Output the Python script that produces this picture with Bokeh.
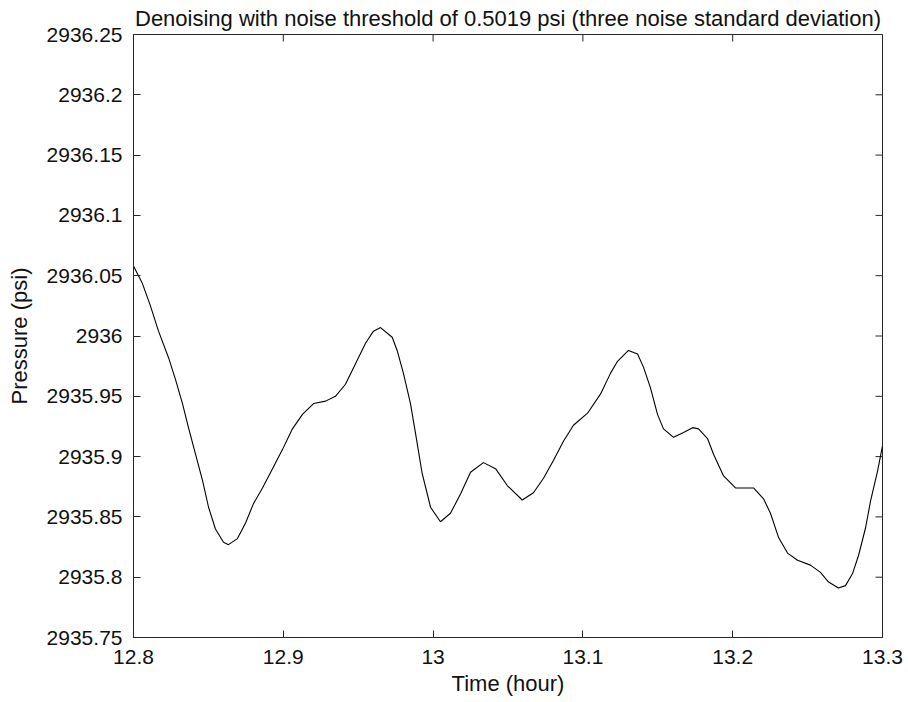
from bokeh.plotting import figure
from bokeh.models import FixedTicker, Range1d, Title
from bokeh.embed import file_html
from bokeh.resources import INLINE

time_hour = [12.8000, 12.8058, 12.8113, 12.8167, 12.8234, 12.8280, 12.8327, 12.8367, 12.8414,
             12.8461, 12.8501, 12.8547, 12.8601, 12.8634, 12.8694, 12.8748, 12.8801, 12.8861,
             12.8928, 12.8995, 12.9061, 12.9128, 12.9202, 12.9282, 12.9348, 12.9415, 12.9482,
             12.9549, 12.9602, 12.9649, 12.9727, 12.9760, 12.9802, 12.9849, 12.9883, 12.9927,
             12.9983, 13.0049, 13.0116, 13.0183, 13.0250, 13.0336, 13.0417, 13.0495, 13.0595,
             13.0670, 13.0737, 13.0804, 13.0871, 13.0937, 13.1031, 13.1118, 13.1184, 13.1231,
             13.1304, 13.1365, 13.1405, 13.1451, 13.1498, 13.1538, 13.1605, 13.1672, 13.1732,
             13.1772, 13.1832, 13.1872, 13.1939, 13.2019, 13.2139, 13.2206, 13.2252, 13.2306,
             13.2366, 13.2433, 13.2519, 13.2586, 13.2640, 13.2706, 13.2753, 13.2800, 13.2840,
             13.2887, 13.2920, 13.2967, 13.3000]
pressure_psi = [2936.058, 2936.044, 2936.025, 2936.004, 2935.982, 2935.964, 2935.944, 2935.924, 2935.902,
                2935.880, 2935.858, 2935.840, 2935.829, 2935.827, 2935.832, 2935.845, 2935.861, 2935.874,
                2935.890, 2935.906, 2935.923, 2935.935, 2935.944, 2935.946, 2935.950, 2935.960, 2935.977,
                2935.994, 2936.004, 2936.007, 2935.999, 2935.988, 2935.969, 2935.944, 2935.919, 2935.886,
                2935.858, 2935.846, 2935.853, 2935.869, 2935.887, 2935.895, 2935.890, 2935.876, 2935.864,
                2935.870, 2935.882, 2935.897, 2935.913, 2935.926, 2935.936, 2935.952, 2935.969, 2935.979,
                2935.988, 2935.985, 2935.974, 2935.957, 2935.935, 2935.923, 2935.916, 2935.920, 2935.924,
                2935.923, 2935.915, 2935.902, 2935.884, 2935.874, 2935.874, 2935.865, 2935.853, 2935.833,
                2935.820, 2935.814, 2935.810, 2935.804, 2935.796, 2935.791, 2935.793, 2935.803, 2935.818,
                2935.841, 2935.863, 2935.888, 2935.909]

x_ticks = [12.8, 12.9, 13.0, 13.1, 13.2, 13.3]
x_tick_labels = ["12.8", "12.9", "13", "13.1", "13.2", "13.3"]
y_ticks = [2935.75, 2935.8, 2935.85, 2935.9, 2935.95, 2936.0, 2936.05, 2936.1, 2936.15, 2936.2, 2936.25]
y_tick_labels = ["2935.75", "2935.8", "2935.85", "2935.9", "2935.95", "2936", "2936.05",
                 "2936.1", "2936.15", "2936.2", "2936.25"]

title_text = "Denoising with noise threshold of 0.5019 psi (three noise standard deviation)"
FONT = "Liberation Sans"

X0, X1 = 12.8, 13.3
Y0, Y1 = 2935.75, 2936.25
W, H = 908, 702
BL, BR, BT, BB = 133, 26, 33, 65
TICK = 7

p = figure(width=W, height=H, output_backend="svg", toolbar_location=None,
           x_range=Range1d(X0, X1), y_range=Range1d(Y0, Y1),
           x_axis_label="Time (hour)", y_axis_label="Pressure (psi)",
           min_border_left=BL, min_border_right=BR, min_border_top=BT, min_border_bottom=BB)
p.title = Title(text=title_text, align="center", text_font=FONT, text_font_size="22px",
                text_font_style="normal", text_color="#111111", offset=0, standoff=7)
p.grid.visible = False
p.outline_line_color = "#262626"
p.background_fill_color = "white"
p.border_fill_color = "white"

def style_axis(ax, ticks, labels):
    ax.ticker = FixedTicker(ticks=ticks)
    ax.major_label_overrides = {t: l for t, l in zip(ticks, labels)}
    ax.major_tick_in = TICK
    ax.major_tick_out = 0
    ax.minor_tick_line_color = None
    ax.axis_line_color = "#262626"
    ax.major_tick_line_color = "#262626"
    ax.major_label_text_font = FONT
    ax.major_label_text_font_size = "21px"
    ax.major_label_text_color = "#111111"
    ax.axis_label_text_font = FONT
    ax.axis_label_text_font_size = "22px"
    ax.axis_label_text_font_style = "normal"
    ax.axis_label_text_color = "#111111"

style_axis(p.xaxis[0], x_ticks, x_tick_labels)
style_axis(p.yaxis[0], y_ticks, y_tick_labels)
p.xaxis[0].major_label_standoff = 12
p.xaxis[0].axis_label_standoff = 4
p.yaxis[0].major_label_standoff = 11
p.yaxis[0].axis_label_standoff = 12

# inward ticks on the top and right edges of the box (MATLAB style)
dx = (X1 - X0) / (W - BL - BR) * TICK
dy = (Y1 - Y0) / (H - BT - BB) * TICK
p.segment(x0=x_ticks, y0=[Y1] * len(x_ticks), x1=x_ticks, y1=[Y1 - dy] * len(x_ticks),
          line_color="#262626", line_width=1)
p.segment(x0=[X1] * len(y_ticks), y0=y_ticks, x1=[X1 - dx] * len(y_ticks), y1=y_ticks,
          line_color="#262626", line_width=1)

p.line(time_hour, pressure_psi, line_color="#000000", line_width=1.1)

open("out.html", "w").write(file_html(p, INLINE))
